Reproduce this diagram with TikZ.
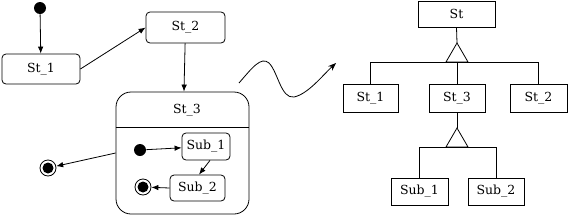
\documentclass[tikz,border=0pt]{standalone}
\usepackage{fontspec}
\setmainfont{DejaVu Serif}
\usetikzlibrary{arrows.meta,calc}
\begin{document}
\begin{tikzpicture}[x=1pt,y=-1pt,line width=0.8pt,
  every node/.style={font=\fontsize{12.5}{14}\selectfont},
  statebox/.style={draw,rounded corners=4pt,inner sep=0pt},
  classbox/.style={draw,inner sep=0pt},
  initdot/.style={circle,fill=black,inner sep=0pt,minimum size=12pt},
  finring/.style={circle,draw,inner sep=0pt,minimum size=16pt},
  tr/.style={-{Latex[length=7pt,width=5.5pt]}},
  gen/.style={line width=0.8pt}]
\useasboundingbox (0,0) rectangle (580,220);

% left state machine
\node[initdot] (ini1) at (40,8) {};
\node[statebox,minimum width=78pt,minimum height=30pt] (st1) at (41,69) {St\_1};
\node[statebox,minimum width=79pt,minimum height=31pt] (st2) at (185.5,27.5) {St\_2};
\node[draw,rounded corners=15pt,minimum width=133pt,minimum height=122pt,inner sep=0pt] (st3) at (182.5,153) {};
\node (st3t) at (187,110) {St\_3};
\draw (st3.west |- 0,127) coordinate (dl) -- (st3.east |- 0,127) coordinate (dr);
\node[initdot] (ini2) at (140,150) {};
\node[statebox,minimum width=48pt,minimum height=27pt] (sub1) at (206,146.5) {Sub\_1};
\node[statebox,minimum width=55pt,minimum height=26pt] (sub2) at (197.5,188) {Sub\_2};
\node[finring] (fin2) at (143,187) {};
\fill (fin2.center) circle (5.5pt);
\node[finring] (fin1) at (48,168) {};
\fill (fin1.center) circle (5.5pt);

\draw[tr] (ini1) -- (st1);
\draw[tr] (st1.east) -- (st2.west);
\draw[tr] (st2) -- (st3);
\draw[tr] (st3.west) -- (fin1);
\draw[tr] (ini2) -- (sub1);
\draw[tr] ($(sub1.south)+(4,0)$) -- ($(sub2.north)+(1.5,0)$);
\draw[tr] (sub2.west) -- (fin2);

% wavy arrow
\coordinate (ws) at (239,83);
\coordinate (we) at (336,63);
\draw[-{Stealth[length=8pt,width=6pt]}] (ws) .. controls (252,68) and (261,56) .. (269,63)
  .. controls (278,72) and (281,99) .. (294,97)
  .. controls (308,94) and (322,76) .. (we);

% right hierarchy
\node[classbox,minimum width=77pt,minimum height=26pt] (St) at (456.5,14) {St};
\node[classbox,minimum width=55pt,minimum height=28pt] (r1) at (370.5,98) {St\_1};
\node[classbox,minimum width=56pt,minimum height=28pt] (r3) at (457,98) {St\_3};
\node[classbox,minimum width=57pt,minimum height=28pt] (r2) at (538.5,98) {St\_2};
\node[classbox,minimum width=57pt,minimum height=27pt] (s1) at (419.5,191.5) {Sub\_1};
\node[classbox,minimum width=56pt,minimum height=27pt] (s2) at (496,191.5) {Sub\_2};

\coordinate (a1) at (457,43);
\coordinate (b1) at (457,62);
\draw[gen] (St.south) -- (a1);
\draw[gen] (a1) -- (446,62) -- (468,62) -- cycle;
\draw[gen] (r1.north) -- (r1.north |- b1) -- (r2.north |- b1) -- (r2.north);
\draw[gen] (b1) -- (r3.north);

\coordinate (a2) at (457,128);
\coordinate (b2) at (457,147);
\draw[gen] (r3.south) -- (a2);
\draw[gen] (a2) -- (446,147) -- (468,147) -- cycle;
\draw[gen] (s1.north) -- (s1.north |- b2) -- (s2.north |- b2) -- (s2.north);
\end{tikzpicture}
\end{document}
